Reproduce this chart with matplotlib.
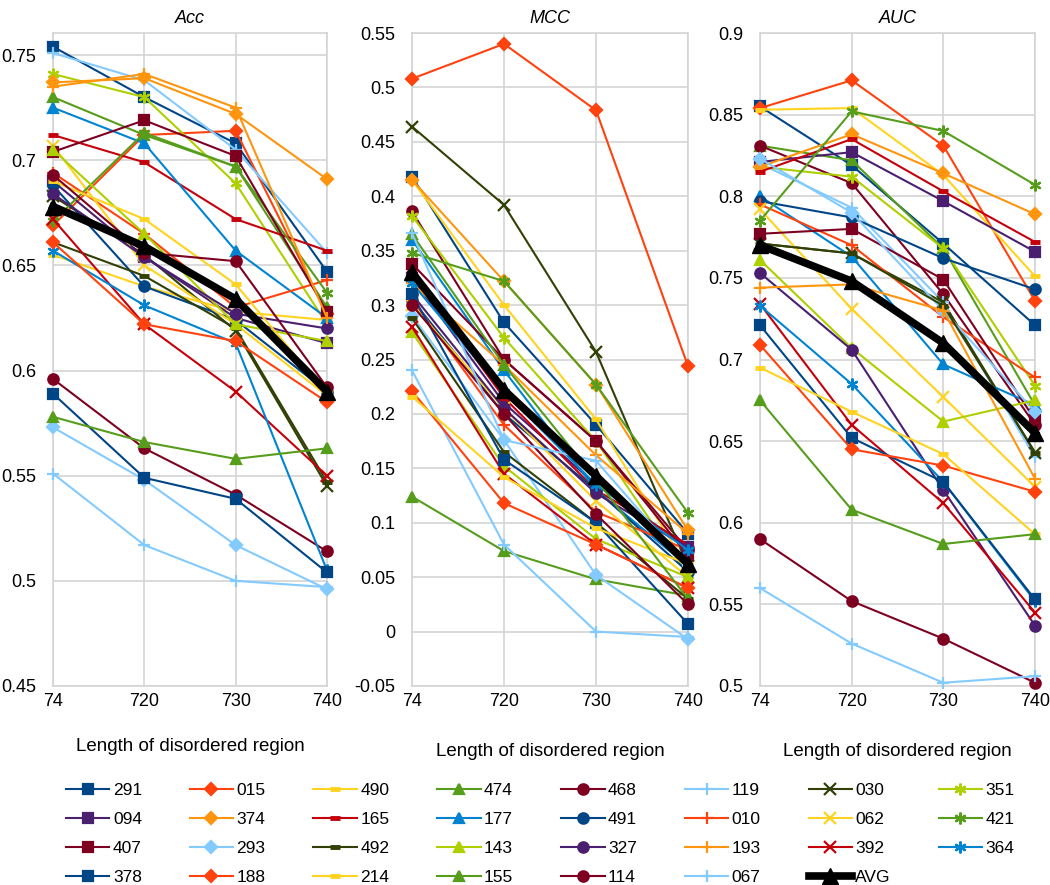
import matplotlib
matplotlib.use('Agg')
import matplotlib.pyplot as plt
from matplotlib.ticker import FuncFormatter

plt.rcParams['font.family'] = ['Liberation Sans', 'DejaVu Sans']

categories = ['74', '720', '730', '740']

series_ids = ['291', '015', '490', '474', '468', '119', '030', '351',
              '094', '374', '165', '177', '491', '010', '062', '421',
              '407', '293', '492', '143', '327', '193', '392', '364',
              '378', '188', '214', '155', '114', '067']

palette = ['#004586', '#ff420e', '#ffd320', '#579d1c', '#7e0021', '#83caff',
           '#314004', '#aecf00', '#4b1f6f', '#ff950e', '#c5000b', '#0084d1']
star = (6, 2, 0)
marker_cycle = ['s', 'D', '_', '^', 'o', '+', 'x', star]

# one row per series, same order as series_ids
acc = [
    [0.754, 0.730, 0.708, 0.647],
    [0.669, 0.712, 0.714, 0.627],
    [0.655, 0.640, 0.628, 0.624],
    [0.730, 0.712, 0.697, 0.630],
    [0.596, 0.563, 0.541, 0.514],
    [0.751, 0.738, 0.705, 0.656],
    [0.683, 0.655, 0.619, 0.545],
    [0.741, 0.730, 0.689, 0.622],
    [0.690, 0.654, 0.625, 0.613],
    [0.737, 0.739, 0.722, 0.691],
    [0.712, 0.699, 0.672, 0.657],
    [0.725, 0.708, 0.657, 0.625],
    [0.688, 0.640, 0.624, 0.590],
    [0.694, 0.665, 0.630, 0.643],
    [0.707, 0.650, 0.622, 0.588],
    [0.671, 0.713, 0.697, 0.637],
    [0.704, 0.719, 0.702, 0.628],
    [0.573, 0.548, 0.517, 0.496],
    [0.661, 0.645, 0.620, 0.547],
    [0.705, 0.665, 0.622, 0.614],
    [0.684, 0.654, 0.627, 0.620],
    [0.735, 0.741, 0.725, 0.625],
    [0.672, 0.622, 0.590, 0.550],
    [0.657, 0.631, 0.613, 0.505],
    [0.589, 0.549, 0.539, 0.504],
    [0.661, 0.622, 0.614, 0.585],
    [0.690, 0.672, 0.641, 0.589],
    [0.578, 0.566, 0.558, 0.563],
    [0.693, 0.656, 0.652, 0.592],
    [0.551, 0.517, 0.500, 0.497],
]
mcc = [
    [0.418, 0.284, 0.190, 0.090],
    [0.508, 0.540, 0.479, 0.244],
    [0.415, 0.300, 0.195, 0.058],
    [0.124, 0.074, 0.048, 0.033],
    [0.386, 0.250, 0.175, 0.075],
    [0.240, 0.080, 0.000, -0.005],
    [0.464, 0.392, 0.257, 0.060],
    [0.382, 0.270, 0.175, 0.052],
    [0.325, 0.210, 0.135, 0.078],
    [0.415, 0.322, 0.227, 0.093],
    [0.330, 0.215, 0.130, 0.080],
    [0.360, 0.240, 0.130, 0.060],
    [0.305, 0.200, 0.130, 0.055],
    [0.305, 0.190, 0.110, 0.075],
    [0.300, 0.205, 0.120, 0.050],
    [0.348, 0.322, 0.227, 0.109],
    [0.338, 0.250, 0.175, 0.070],
    [0.290, 0.176, 0.052, -0.007],
    [0.288, 0.165, 0.100, 0.030],
    [0.275, 0.152, 0.085, 0.050],
    [0.310, 0.205, 0.127, 0.077],
    [0.320, 0.245, 0.162, 0.090],
    [0.280, 0.145, 0.080, 0.040],
    [0.320, 0.220, 0.135, 0.075],
    [0.310, 0.158, 0.100, 0.007],
    [0.221, 0.118, 0.080, 0.040],
    [0.216, 0.142, 0.095, 0.062],
    [0.365, 0.245, 0.140, 0.030],
    [0.300, 0.200, 0.108, 0.025],
    [0.366, 0.176, 0.157, 0.060],
]
auc = [
    [0.855, 0.819, 0.771, 0.721],
    [0.854, 0.871, 0.831, 0.736],
    [0.853, 0.854, 0.813, 0.751],
    [0.831, 0.822, 0.768, 0.672],
    [0.831, 0.808, 0.740, 0.660],
    [0.820, 0.793, 0.735, 0.640],
    [0.771, 0.765, 0.735, 0.643],
    [0.818, 0.812, 0.768, 0.684],
    [0.821, 0.827, 0.797, 0.766],
    [0.818, 0.838, 0.814, 0.789],
    [0.815, 0.835, 0.803, 0.772],
    [0.800, 0.763, 0.697, 0.672],
    [0.797, 0.787, 0.762, 0.743],
    [0.795, 0.770, 0.726, 0.689],
    [0.792, 0.731, 0.677, 0.622],
    [0.785, 0.852, 0.840, 0.807],
    [0.777, 0.780, 0.749, 0.663],
    [0.823, 0.790, 0.730, 0.668],
    [0.771, 0.765, 0.733, 0.643],
    [0.761, 0.707, 0.662, 0.675],
    [0.753, 0.706, 0.620, 0.537],
    [0.744, 0.746, 0.730, 0.627],
    [0.734, 0.660, 0.612, 0.545],
    [0.733, 0.685, 0.625, 0.552],
    [0.721, 0.652, 0.625, 0.553],
    [0.709, 0.645, 0.635, 0.619],
    [0.695, 0.668, 0.642, 0.593],
    [0.675, 0.608, 0.587, 0.593],
    [0.590, 0.552, 0.529, 0.502],
    [0.560, 0.526, 0.502, 0.506],
]
acc_avg = [0.678, 0.659, 0.634, 0.590]
mcc_avg = [0.330, 0.222, 0.143, 0.062]
auc_avg = [0.770, 0.748, 0.710, 0.655]

panels = [
    ('Acc', acc, acc_avg, (0.45, 0.7605), [0.45, 0.5, 0.55, 0.6, 0.65, 0.7, 0.75], 53, 274, 20),
    ('MCC', mcc, mcc_avg, (-0.05, 0.55), [-0.05, 0, 0.05, 0.1, 0.15, 0.2, 0.25, 0.3, 0.35, 0.4, 0.45, 0.5, 0.55], 412, 276, 24),
    ('AUC', auc, auc_avg, (0.5, 0.9), [0.5, 0.55, 0.6, 0.65, 0.7, 0.75, 0.8, 0.85, 0.9], 760, 275, 24),
]

W, H = 1050, 885
fig = plt.figure(figsize=(10.5, 8.85), dpi=100)
x = list(range(len(categories)))
fmt = FuncFormatter(lambda v, p: ('%g' % round(v, 3)))

handles = []
for name, data, avg, ylim, yticks, left, width, lpad in panels:
    ax = fig.add_axes([left / W, 1 - 686 / H, width / W, 653 / H])
    for i, row in enumerate(data):
        m = marker_cycle[i % 8]
        ms = 7.5
        if m == 'D':
            ms = 6.5
        if m in ('+', 'x', star):
            ms = 8.5
        line, = ax.plot(x, row, color=palette[i % 12], marker=m, ms=ms, mew=1.6 if m != '_' else 3.5,
                        lw=1.5, label=series_ids[i], clip_on=False, zorder=3)
        if name == 'Acc':
            handles.append(line)
    la, = ax.plot(x, avg, color='black', marker='^', ms=12, lw=5.5, label='AVG', clip_on=False, zorder=5)
    if name == 'Acc':
        handles.append(la)
    ax.set_xlim(0, 3)
    ax.set_ylim(*ylim)
    ax.set_yticks(yticks)
    ax.yaxis.set_major_formatter(fmt)
    ax.set_xticks(x)
    ax.set_xticklabels(categories)
    ax.grid(True, color='#d4d4d4', lw=1.2)
    ax.set_axisbelow(True)
    for s in ax.spines.values():
        s.set_color('#d4d4d4')
        s.set_linewidth(1.2)
    ax.tick_params(length=0, labelsize=13, colors='black')
    ax.tick_params(axis='y', pad=12)
    ax.tick_params(axis='x', pad=5)
    ax.set_title(name, fontsize=13, style='italic', pad=7)
    ax.set_xlabel('Length of disordered region', fontsize=13.5, labelpad=lpad)

labels = series_ids + ['AVG']
order = []
for c in range(8):
    for r in range(4):
        k = r * 8 + c
        if k < len(labels):
            order.append(k)
fig.legend([handles[k] for k in order], [labels[k] for k in order], ncol=8,
           loc='upper left', bbox_to_anchor=(66 / W, 1 - 783 / H), frameon=False,
           fontsize=12.5, handlelength=2.5, handletextpad=0.2, columnspacing=2.75,
           labelspacing=0.8, borderpad=0, borderaxespad=0)

fig.savefig('out.png', dpi=100)
